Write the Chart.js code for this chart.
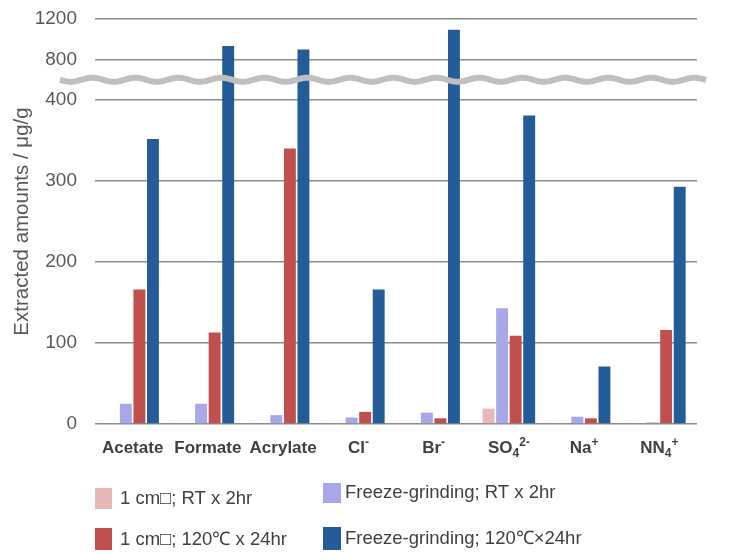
<!DOCTYPE html>
<html>
<head>
<meta charset="utf-8">
<script src="https://cdn.jsdelivr.net/npm/chart.js@4.4.1/dist/chart.umd.min.js"></script>
<style>
  html, body { margin: 0; padding: 0; background: #fff; }
  canvas { display: block; }
</style>
</head>
<body>
<canvas id="chart" width="730" height="553"></canvas>
<script>
// --- data (µg/g) ---
const categories = ['Acetate', 'Formate', 'Acrylate', 'Cl⁻', 'Br⁻', 'SO₄²⁻', 'Na⁺', 'NN₄⁺'];
const seriesLabels = [
  '1 cm□; RT x 2hr',
  'Freeze-grinding; RT x 2hr',
  '1 cm□; 120℃ x 24hr',
  'Freeze-grinding; 120℃×24hr'
];
const cutRT = [0, 1, 0, 1, 0, 19, 1, 1];
const freezeRT = [25, 25, 11, 8, 14, 143, 9, 2];
const cutHot = [166, 113, 340, 15, 7, 109, 7, 116];
const freezeHot = [352, 933, 900, 166, 1093, 381, 71, 293];
const tickValues = [0, 100, 200, 300, 400, 800, 1200];

const seriesColors = ['#E6B9B8', '#A8A8E8', '#C0504D', '#235C96'];

// broken axis: above 400 the scale is squeezed 8x
const BREAK_AT = 400;
const UPPER_FACTOR = 1 / 8;
const toAxis = v => v <= BREAK_AT ? v : BREAK_AT + (v - BREAK_AT) * UPPER_FACTOR;
const fromAxis = d => d <= BREAK_AT ? d : BREAK_AT + (d - BREAK_AT) / UPPER_FACTOR;

const FONT = '"Liberation Sans", Arial, sans-serif';

// draws category labels, turning sub/superscript characters into small raised/lowered text
const subChars = { '₄': '4' };
const supChars = { '⁻': '-', '⁺': '+', '²': '2' };

const categoryLabels = {
  id: 'categoryLabels',
  afterDraw(chart) {
    const { ctx, scales: { x } } = chart;
    ctx.save();
    ctx.fillStyle = '#404040';
    ctx.textBaseline = 'alphabetic';
    ctx.textAlign = 'left';
    categories.forEach((label, i) => {
      const runs = [];
      for (const ch of label) {
        let kind = 'n', c = ch;
        if (subChars[ch]) { kind = 'sub'; c = subChars[ch]; }
        else if (supChars[ch]) { kind = 'sup'; c = supChars[ch]; }
        const last = runs[runs.length - 1];
        if (last && last.kind === kind) last.text += c;
        else runs.push({ kind, text: c });
      }
      const fontFor = k => k === 'n' ? `bold 17px ${FONT}` : `bold 12px ${FONT}`;
      let total = 0;
      runs.forEach(r => { ctx.font = fontFor(r.kind); r.w = ctx.measureText(r.text).width; total += r.w; });
      let px = x.getPixelForTick(i) - total / 2;
      const base = 453;
      runs.forEach(r => {
        ctx.font = fontFor(r.kind);
        const dy = r.kind === 'sub' ? 4 : r.kind === 'sup' ? -7 : 0;
        ctx.fillText(r.text, px, base + dy);
        px += r.w;
      });
    });
    ctx.restore();
  }
};

// wavy break marker across the plot
const axisBreak = {
  id: 'axisBreak',
  afterDatasetsDraw(chart) {
    const { ctx, scales: { y } } = chart;
    const yb = y.getPixelForValue(toAxis(BREAK_AT) + 25);
    ctx.save();
    ctx.strokeStyle = '#BFBFBF';
    ctx.lineWidth = 6;
    ctx.beginPath();
    for (let px = 60; px <= 706; px += 1) {
      const py = yb + 2 * Math.sin((px - 60) / 43 * Math.PI * 2);
      if (px === 60) ctx.moveTo(px, py); else ctx.lineTo(px, py);
    }
    ctx.stroke();
    ctx.restore();
  }
};

// 2 x 2 legend under the chart
const gridLegend = {
  id: 'gridLegend',
  afterDraw(chart) {
    const { ctx } = chart;
    const slots = [
      { box: [95, 488, 17, 21], tx: 120, ty: 499 },
      { box: [323, 483, 18, 20], tx: 345, ty: 493 },
      { box: [95, 528, 17, 22], tx: 120, ty: 540 },
      { box: [323, 527, 18, 23], tx: 345, ty: 539 }
    ];
    ctx.save();
    ctx.font = `18.5px ${FONT}`;
    ctx.textBaseline = 'middle';
    ctx.textAlign = 'left';
    chart.data.datasets.forEach((ds, i) => {
      const s = slots[i];
      ctx.fillStyle = ds.backgroundColor;
      ctx.fillRect(...s.box);
      ctx.fillStyle = '#404040';
      ctx.fillText(ds.label, s.tx, s.ty);
    });
    ctx.restore();
  }
};

const seriesData = [cutRT, freezeRT, cutHot, freezeHot];

new Chart(document.getElementById('chart'), {
  type: 'bar',
  data: {
    labels: categories,
    datasets: seriesData.map((vals, i) => ({
      label: seriesLabels[i],
      data: vals.map(toAxis),
      backgroundColor: seriesColors[i],
      borderWidth: 0,
      categoryPercentage: 0.72,
      barPercentage: 0.88
    }))
  },
  options: {
    responsive: false,
    animation: false,
    devicePixelRatio: 1,
    layout: { padding: { top: 19, right: 33, left: 0, bottom: 0 } },
    plugins: {
      legend: { display: false },
      tooltip: {
        callbacks: {
          label: c => `${c.dataset.label}: ${seriesData[c.datasetIndex][c.dataIndex]}`
        }
      }
    },
    scales: {
      x: {
        grid: { display: false },
        border: { display: false },
        ticks: { display: false },
        afterFit: s => { s.height = 129; }
      },
      y: {
        min: 0,
        max: toAxis(1200),
        afterBuildTicks: s => { s.ticks = tickValues.map(v => ({ value: toAxis(v) })); },
        afterFit: s => { s.width = 95; s.paddingTop = 0; s.paddingBottom = 0; },
        grid: { color: '#8C8C8C', lineWidth: 1.5, drawTicks: false },
        border: { display: false },
        ticks: {
          padding: 18,
          color: '#595959',
          font: { family: FONT, size: 19 },
          callback: v => String(Math.round(fromAxis(v)))
        },
        title: {
          display: true,
          text: 'Extracted amounts / μg/g',
          color: '#595959',
          font: { family: FONT, size: 20.5 },
          padding: { top: 10, bottom: 0 }
        }
      }
    }
  },
  plugins: [categoryLabels, axisBreak, gridLegend]
});
</script>
</body>
</html>
